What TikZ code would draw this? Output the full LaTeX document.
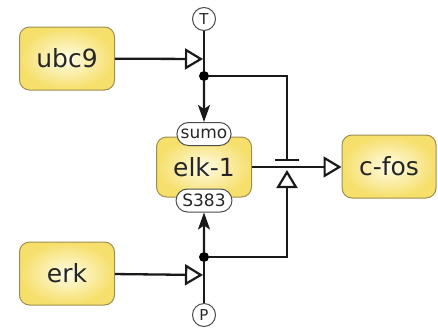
\documentclass[tikz,border=0pt]{standalone}
\usepackage{fontspec}
\setmainfont{DejaVu Sans}
\usetikzlibrary{arrows.meta,shapes.misc}
\definecolor{boxedge}{HTML}{9C8F50}
\definecolor{boxouter}{HTML}{F6DF6A}
\definecolor{boxinner}{HTML}{FFFCE6}
\tikzset{
  x=1pt, y=-1pt,
  epn/.style={draw=boxedge, line width=1pt, rounded corners=10pt, inner color=boxinner, outer color=boxouter, font=\fontsize{25}{25}\selectfont, text=black!85},
  sv/.style={draw=black!70, fill=white, rounded rectangle, line width=1pt, font=\fontsize{17}{17}\selectfont, inner sep=1.5pt, minimum height=23pt, text width=49pt, align=center, text=black!85},
  statemark/.style={draw=black!70, fill=white, circle, line width=1pt, minimum size=23pt, inner sep=0pt, font=\fontsize{15}{15}\selectfont, text=black!85},
  arc/.style={line width=2.3pt, black!90},
  stim/.style={arc, -{Triangle[open, length=18pt, width=21pt, line width=2.2pt]}},
  prod/.style={arc, -{Stealth[length=17pt, width=12pt, inset=4pt]}},
  dotc/.style={circle, fill=black, minimum size=10pt, inner sep=0pt}
}
\begin{document}
\begin{tikzpicture}
\useasboundingbox (0,0) rectangle (438,330);
% entities
\node[epn, minimum width=95pt, minimum height=63pt] (ubc9) at (67,58.5) {ubc9};
\node[epn, minimum width=95pt, minimum height=63pt] (erk) at (67,273.5) {erk};
\node[epn, minimum width=94pt, minimum height=63pt] (cfos) at (389,166.5) {c-fos};
\node[epn, minimum width=95pt, minimum height=60pt] (elk) at (204,167) {elk-1};
\node[sv] (sumo) at (204,134) {sumo};
\node[sv] (s383) at (204,200.5) {S383};
% state marks
\node[statemark] (T) at (204,19) {T};
\node[statemark] (P) at (204,315) {P};
% junction dots and coordinates
\node[dotc] (d1) at (204,76) {};
\node[dotc] (d2) at (204,257) {};
\coordinate (tU) at (203,59);
\coordinate (tL) at (203,275);
\coordinate (c1) at (287,76);
\coordinate (c2) at (287,257);
\coordinate (bar) at (287,160);
\coordinate (barL) at (275,160);
\coordinate (barR) at (299,160);
\coordinate (tri) at (287,170);
\coordinate (mid) at (287,167);
% connectors
\draw[arc] (T) -- (d1);
\draw[prod] (d1) -- (sumo);
\draw[arc] (P) -- (d2);
\draw[prod] (d2) -- (s383);
\draw[stim] (ubc9) -- (tU);
\draw[stim] (erk) -- (tL);
\draw[arc] (d1) -- (c1) -- (bar);
\draw[arc] (barL) -- (barR);
\draw[stim] (d2) -- (c2) -- (tri);
\draw[stim] (elk.east |- mid) -- (cfos.west |- mid);
\end{tikzpicture}
\end{document}
